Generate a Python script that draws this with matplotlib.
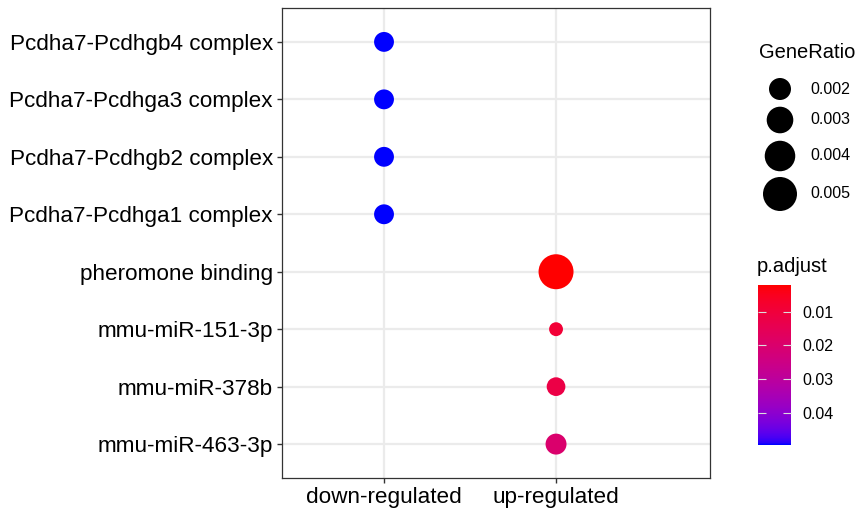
import matplotlib
matplotlib.use('Agg')
import matplotlib.pyplot as plt
import numpy as np
from matplotlib.colors import LinearSegmentedColormap, Normalize
from matplotlib.colorbar import ColorbarBase

plt.rcParams['font.family'] = ['Liberation Sans', 'DejaVu Sans']

# data (top row first)
terms = ['Pcdha7-Pcdhgb4 complex', 'Pcdha7-Pcdhga3 complex', 'Pcdha7-Pcdhgb2 complex',
         'Pcdha7-Pcdhga1 complex', 'pheromone binding', 'mmu-miR-151-3p',
         'mmu-miR-378b', 'mmu-miR-463-3p']
groups = ['down-regulated', 'down-regulated', 'down-regulated', 'down-regulated',
          'up-regulated', 'up-regulated', 'up-regulated', 'up-regulated']
gene_ratio = [0.0016, 0.0016, 0.0016, 0.0016, 0.0053, 0.0007, 0.0014, 0.0018]
p_adjust = [0.0496, 0.0496, 0.0496, 0.0496, 0.0021, 0.009, 0.012, 0.020]
group_order = ['down-regulated', 'up-regulated']
size_breaks = [0.002, 0.003, 0.004, 0.005]
color_breaks = [0.01, 0.02, 0.03, 0.04]
p_min, p_max = 0.0021, 0.0496


# ggplot-like red->blue gradient interpolated in Lab space
def srgb_to_lab(rgb):
    c = np.asarray(rgb, float)
    c = np.where(c > 0.04045, ((c + 0.055) / 1.055) ** 2.4, c / 12.92)
    M = np.array([[0.4124, 0.3576, 0.1805], [0.2126, 0.7152, 0.0722], [0.0193, 0.1192, 0.9505]])
    xyz = M @ c / np.array([0.95047, 1.0, 1.08883])
    f = np.where(xyz > 0.008856, np.cbrt(xyz), 7.787 * xyz + 16 / 116)
    return np.array([116 * f[1] - 16, 500 * (f[0] - f[1]), 200 * (f[1] - f[2])])


def lab_to_srgb(lab):
    L, a, b = lab
    fy = (L + 16) / 116
    f = np.array([fy + a / 500, fy, fy - b / 200])
    xyz = np.where(f ** 3 > 0.008856, f ** 3, (f - 16 / 116) / 7.787) * np.array([0.95047, 1.0, 1.08883])
    Mi = np.array([[3.2406, -1.5372, -0.4986], [-0.9689, 1.8758, 0.0415], [0.0557, -0.2040, 1.0570]])
    c = Mi @ xyz
    c = np.where(c > 0.0031308, 1.055 * np.abs(c) ** (1 / 2.4) - 0.055, 12.92 * c)
    return np.clip(c, 0, 1)


lab_r = srgb_to_lab([1, 0, 0])
lab_b = srgb_to_lab([0, 0, 1])
steps = [lab_to_srgb(lab_r + (lab_b - lab_r) * t) for t in np.linspace(0, 1, 64)]
cmap = LinearSegmentedColormap.from_list('rb', steps)
norm = Normalize(vmin=p_min, vmax=p_max)


def px_size(v):
    # diameter in px from gene ratio (area-linear), converted to points^2
    d2 = 36 + 224000 * np.asarray(v)
    return d2 * 0.72 ** 2


W, H = 858, 513
fig = plt.figure(figsize=(W / 100, H / 100), dpi=100)
ax = fig.add_axes([282 / W, 1 - 478 / H, 428 / W, 470 / H])

xs = [group_order.index(g) + 1 for g in groups]
ys = list(range(len(terms), 0, -1))
ax.scatter(xs, ys, s=px_size(gene_ratio), c=p_adjust, cmap=cmap, norm=norm,
           edgecolors='none', zorder=3)

ax.set_xlim(0.407, 2.895)
ax.set_ylim(0.41, 8.59)
ax.set_xticks([1, 2])
ax.set_xticklabels(group_order, fontsize=16.2)
ax.set_yticks(ys)
ax.set_yticklabels(terms, fontsize=16.2)
ax.grid(True, color='#EBEBEB', linewidth=1.6, zorder=0)
ax.set_axisbelow(True)
ax.tick_params(length=3.5, width=1, color='#333333', labelcolor='black', pad=3)
for sp in ax.spines.values():
    sp.set_color('#333333')
    sp.set_linewidth(0.9)

# size legend
lax = fig.add_axes([0, 0, 1, 1])
lax.set_xlim(0, W)
lax.set_ylim(H, 0)
lax.axis('off')
lax.text(759, 52, 'GeneRatio', fontsize=14.5, va='center', ha='left')
leg_y = [89, 120, 156, 194]
lax.scatter([780] * len(size_breaks), leg_y, s=px_size(size_breaks), c='black', edgecolors='none')
for yy, v in zip(leg_y, size_breaks):
    lax.text(810, yy, f'{v:.3f}', fontsize=11.5, va='center', ha='left')

# colour bar
lax.text(757, 267, 'p.adjust', fontsize=14.5, va='center', ha='left')
cax = fig.add_axes([758 / W, 1 - 445 / H, 33 / W, 160 / H])
cb = ColorbarBase(cax, cmap=cmap, norm=norm, orientation='vertical', ticks=color_breaks)
cb.outline.set_visible(False)
cax.invert_yaxis()
cax.set_yticklabels([f'{v:.2f}' for v in color_breaks], fontsize=11.5)
cax.tick_params(axis='y', direction='in', length=6, width=0.8, color='#DDDDDD',
                left=True, right=True, pad=8)

fig.savefig('out.png', dpi=100)
